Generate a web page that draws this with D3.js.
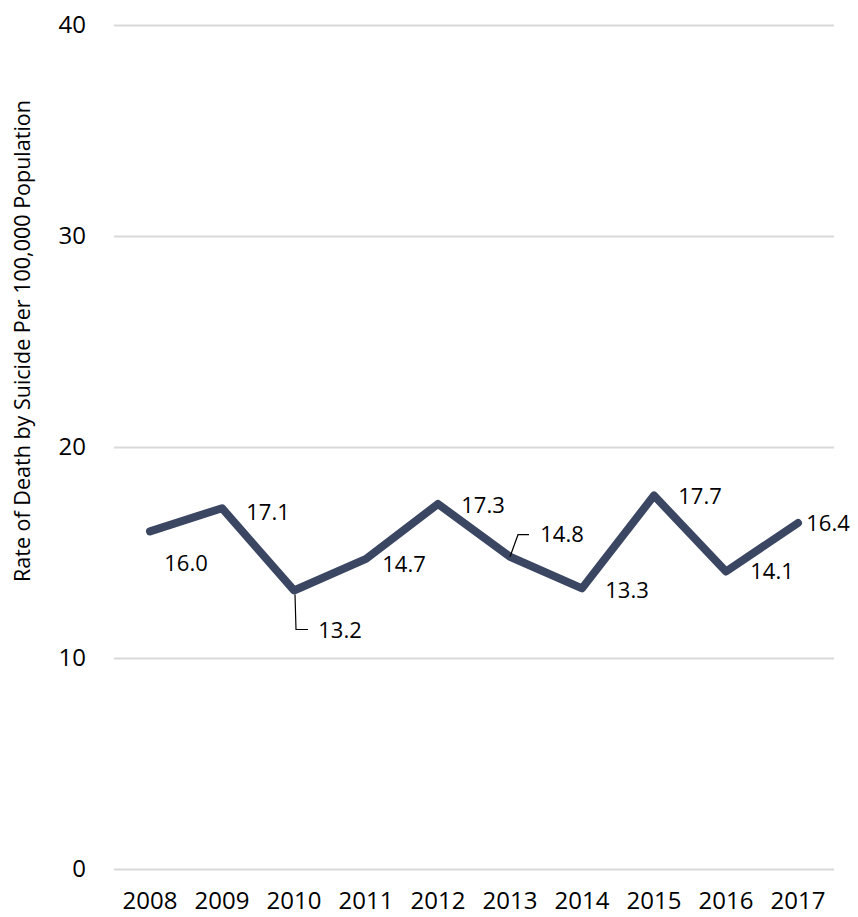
<!DOCTYPE html>
<html lang="en">
<head>
    <meta charset="UTF-8">
    <title>Rate of Death by Suicide</title>
    <style>
        body { margin: 0; background: #fff; overflow: hidden; }
        svg { display: block; }
        text { font-family: "Open Sans", sans-serif; fill: #000; }
        .tick text { font-size: 24px; }
        .axis-label { font-size: 21.5px; }
        .data-label { font-size: 22px; }
    </style>
</head>
<body>
    <svg width="858" height="917"></svg>

    <script src="https://d3js.org/d3.v7.min.js"></script>
    <script>

        // Chart data
        const years = ['2008', '2009', '2010', '2011', '2012', '2013', '2014', '2015', '2016', '2017'];
        const rates = [16.0, 17.1, 13.2, 14.7, 17.3, 14.8, 13.3, 17.7, 14.1, 16.4];
        const yTicks = [0, 10, 20, 30, 40];

        // Label offsets from each point (dx, dy)
        const labelOffsets = [
            [36, 32], [46, 4], [46, 40], [38, 5], [45, 1],
            [52, -22], [45, 2], [46, 1], [46, 0], [30, 0]
        ];

        const margin = { left: 114, right: 24, top: 25, bottom: 48 };

        const svg = d3.select('svg');
        const width = +svg.attr('width');
        const height = +svg.attr('height');
        const innerWidth = width - margin.left - margin.right;
        const innerHeight = height - margin.top - margin.bottom;

        const group = svg.append('g')
            .attr('transform', 'translate(' + margin.left + ' ' + margin.top + ')');

        const xScale = d3.scaleBand()
            .domain(years)
            .range([0, 720]);

        const yScale = d3.scaleLinear()
            .domain([0, 40])
            .range([innerHeight, 0]);

        const xMid = function (d) { return xScale(d) + xScale.bandwidth() / 2; };

        // y axis with gridlines
        const yAxisG = group.append('g')
            .call(d3.axisLeft(yScale)
                .tickValues(yTicks)
                .tickSize(-720)
                .tickPadding(28));
        yAxisG.select('.domain').remove();
        yAxisG.selectAll('.tick line')
            .attr('stroke', '#d9d9d9')
            .attr('stroke-width', 2);

        // x axis labels only
        const xAxisG = group.append('g')
            .attr('transform', 'translate(0 ' + innerHeight + ')')
            .call(d3.axisBottom(xScale).tickSize(0).tickPadding(0));
        xAxisG.select('.domain').remove();
        xAxisG.selectAll('.tick text')
            .attr('y', 32)
            .attr('dy', '0.35em');

        // Axis title
        group.append('text')
            .attr('class', 'axis-label')
            .attr('transform', 'rotate(-90)')
            .attr('x', -(341 - margin.top))
            .attr('y', 22 - margin.left)
            .attr('dy', '0.35em')
            .style('text-anchor', 'middle')
            .text('Rate of Death by Suicide Per 100,000 Population');

        // Line
        const line = d3.line()
            .x(function (d, i) { return xMid(years[i]); })
            .y(function (d) { return yScale(d); });

        group.append('path')
            .datum(rates)
            .attr('fill', 'none')
            .attr('stroke', '#3b4662')
            .attr('stroke-width', 8)
            .attr('stroke-linejoin', 'round')
            .attr('stroke-linecap', 'round')
            .attr('d', line);

        // Leader lines for 2010 and 2013
        const leader = function (i, pts) {
            const px = xMid(years[i]);
            const py = yScale(rates[i]);
            group.append('polyline')
                .attr('fill', 'none')
                .attr('stroke', '#000')
                .attr('stroke-width', 1.2)
                .attr('points', pts.map(function (p) {
                    return (px + p[0]) + ',' + (py + p[1]);
                }).join(' '));
        };
        leader(2, [[1, 4], [2, 39], [14, 39]]);
        leader(5, [[0, 0], [8, -22], [19, -22]]);

        // Data labels
        group.selectAll('.data-label')
            .data(rates)
            .enter()
            .append('text')
            .attr('class', 'data-label')
            .attr('x', function (d, i) { return xMid(years[i]) + labelOffsets[i][0]; })
            .attr('y', function (d, i) { return yScale(d) + labelOffsets[i][1]; })
            .attr('dy', '0.35em')
            .style('text-anchor', 'middle')
            .text(function (d) { return d.toFixed(1); });

    </script>
</body>
</html>
